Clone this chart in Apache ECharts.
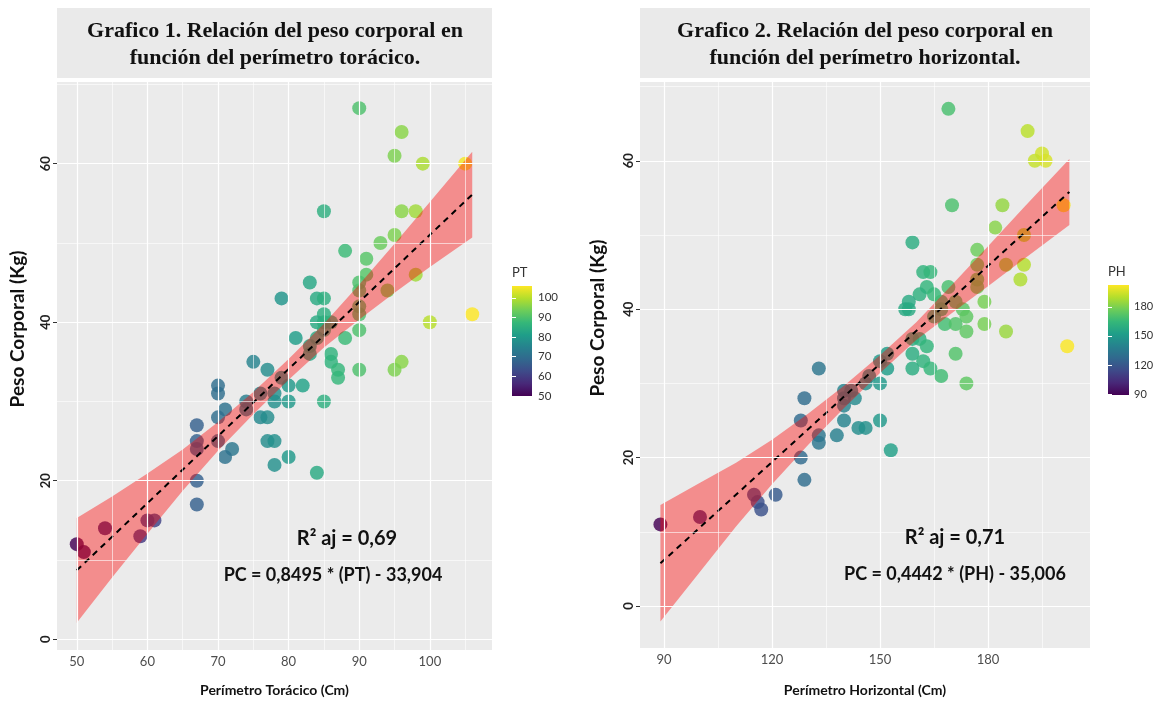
<!DOCTYPE html>
<html><head><meta charset="utf-8">
<script src="https://cdn.jsdelivr.net/npm/echarts@6/dist/echarts.min.js"></script>
<style>html,body{margin:0;padding:0;background:#fff}#c{width:1154px;height:702px}</style>
</head><body><div id="c"></div>
<script>
// ---------- data: chart 1 (PT vs PC) ----------
const ptX = [90,96,95,99,105,85,96,98,95,93,88,91,91,98,90,83,90,94,79,84,85,90,90,85,84,85,86,100,106,90,85,81,88,84,83,83,86,75,86,96,77,87,90,95,79,87,80,82,70,70,76,78,78,80,85,74,74,71,70,76,77,67,67,67,70,77,78,72,71,80,78,84,67,67,60,61,54,59,50,51];
const ptY = [67,64,61,60,60,54,54,54,51,50,49,48,46,46,45,45,44,44,43,43,43,42,41,41,40,40,40,40,41,39,39,38,38,38,37,36,36,35,35,35,34,34,34,34,33,33,32,32,32,31,31,31,30,30,30,30,29,29,28,28,28,27,25,24,25,25,25,24,23,23,22,21,20,17,15,15,14,13,12,11];
const fit1X = [50, 106];
const fit1Y = [8.7, 56.1];
const band1X  = [50, 55, 60, 65, 70, 75, 80, 85, 90, 95, 100, 106];
const band1Lo = [2.1, 7.8, 13.3, 18.75, 23.8, 28.4, 32.75, 36.8, 40.35, 43.7, 46.95, 50.7];
const band1Hi = [15.3, 18.0, 20.9, 23.95, 27.4, 31.2, 35.35, 39.8, 44.75, 49.9, 55.15, 61.5];
const ptRange = [50, 106];

// ---------- data: chart 2 (PH vs PC) ----------
const phX = [169,191,195,193,196,170,184,201,182,190,159,177,177,185,190,162,164,177,189,163,169,177,161,165,158,167,171,179,157,158,167,173,174,165,168,171,179,174,185,159,161,163,202,159,171,152,150,162,152,164,133,159,167,147,174,150,146,140,142,129,143,140,140,128,140,150,144,146,138,133,133,153,128,129,115,121,116,117,100,89];
const phY = [67,64,61,60,60,54,54,54,51,50,49,48,46,46,46,45,45,44,44,43,43,43,42,42,41,41,41,41,40,40,40,40,39,39,38,38,38,37,37,36,36,35,35,34,34,34,33,33,32,32,32,32,31,31,30,30,30,29,29,28,28,28,27,25,25,25,24,24,23,23,22,21,20,17,15,15,14,13,12,11];
const fit2X = [89, 202.6];
const fit2Y = [5.75, 55.8];
const band2X  = [89, 100, 110, 120, 130, 140, 150, 160, 170, 180, 190, 202.6];
const band2Lo = [-2.1, 4.6, 10.7, 16.4, 21.7, 26.7, 31.4, 35.8, 39.5, 43.1, 46.75, 51.35];
const band2Hi = [13.6, 16.6, 19.3, 22.4, 25.9, 29.7, 33.8, 38.2, 43.3, 48.5, 53.75, 60.25];
const phRange = [89, 202.6];

// ---------- ticks ----------
const x1Major = [50, 60, 70, 80, 90, 100];
const x1Minor = [55, 65, 75, 85, 95, 105];
const yMajor  = [0, 20, 40, 60];
const yMinor  = [10, 30, 50, 70];
const x2Major = [90, 120, 150, 180];
const x2Minor = [105, 135, 165, 195];
const leg1Ticks = [50, 60, 70, 80, 90, 100];
const leg2Ticks = [90, 120, 150, 180];

const viridis = ['#440154','#482878','#3E4A89','#31688E','#26828E','#1F9E89','#35B779','#6DCD59','#B4DE2C','#FDE725'];
const FONT = 'Lato, "Open Sans", sans-serif';

const chart = echarts.init(document.getElementById('c'), null, {renderer: 'canvas'});

function gridLines(xi, yi, xs, xsMin, ys, ysMin, xr, yr) {
  const d = [];
  xsMin.forEach(v => d.push({xAxis: v, lineStyle: {color: '#fff', width: 0.6, type: 'solid'}}));
  ysMin.forEach(v => d.push({yAxis: v, lineStyle: {color: '#fff', width: 0.6, type: 'solid'}}));
  xs.forEach(v => d.push({xAxis: v, lineStyle: {color: '#fff', width: 1.2, type: 'solid'}}));
  ys.forEach(v => d.push({yAxis: v, lineStyle: {color: '#fff', width: 1.2, type: 'solid'}}));
  return {
    type: 'line', xAxisIndex: xi, yAxisIndex: yi, z: 0, silent: true,
    data: [[xr, yr]], showSymbol: false, symbol: 'none', lineStyle: {opacity: 0},
    markLine: {silent: true, symbol: 'none', label: {show: false}, animation: false, data: d}
  };
}

function bandSeries(xi, yi, bx, lo, hi) {
  return {
    type: 'custom', xAxisIndex: xi, yAxisIndex: yi, z: 3, silent: true,
    data: [[bx[0], lo[0]]],
    renderItem: function (params, api) {
      const pts = [];
      for (let i = 0; i < bx.length; i++) pts.push(api.coord([bx[i], hi[i]]));
      for (let i = bx.length - 1; i >= 0; i--) pts.push(api.coord([bx[i], lo[i]]));
      return {type: 'polygon', shape: {points: pts}, style: {fill: 'rgba(255,0,0,0.4)'}};
    }
  };
}

function colorBar(xi, yi, range) {
  return {
    type: 'custom', xAxisIndex: xi, yAxisIndex: yi, z: 2, silent: true,
    encode: {x: 0, y: [1, 2]},
    data: [[0, range[0], range[1]]],
    renderItem: function (params, api) {
      const p1 = api.coord([0, api.value(2)]);
      const p2 = api.coord([1, api.value(1)]);
      const stops = viridis.slice().reverse().map((c, i) => ({offset: i / (viridis.length - 1), color: c}));
      return {type: 'rect', shape: {x: p1[0], y: p1[1], width: p2[0] - p1[0], height: p2[1] - p1[1]},
        style: {fill: new echarts.graphic.LinearGradient(0, 0, 0, 1, stops)}};
    }
  };
}

const axisLblX = {color: '#4D4D4D', fontSize: 13, fontFamily: FONT, margin: 5};
const axisLblY = {color: '#222', fontSize: 13, fontWeight: 'bold', fontFamily: FONT, rotate: 90, margin: 5};
const tickStyle = {show: true, length: 4, lineStyle: {color: '#333', width: 1}};
const nameStyleX = {color: '#111', fontSize: 14, fontWeight: 'bold', fontFamily: FONT};
const yTitleFont = 'bold 19px Lato, sans-serif';

const option = {
  backgroundColor: '#fff',
  animation: false,
  grid: [
    {left: 57, top: 82, width: 435, height: 568, show: true, backgroundColor: '#EBEBEB', borderWidth: 0, outerBoundsMode: 'none', containLabel: false},
    {left: 512, top: 286, width: 20, height: 110, show: false, outerBoundsMode: 'none', containLabel: false},
    {left: 640, top: 82, width: 450, height: 566, show: true, backgroundColor: '#EBEBEB', borderWidth: 0, outerBoundsMode: 'none', containLabel: false},
    {left: 1108, top: 285, width: 21, height: 110, show: false, outerBoundsMode: 'none', containLabel: false}
  ],
  xAxis: [
    {gridIndex: 0, type: 'value', min: 47.2, max: 108.8, axisLine: {show: false}, splitLine: {show: false},
     axisTick: Object.assign({customValues: x1Major}, tickStyle),
     axisLabel: Object.assign({customValues: x1Major}, axisLblX),
     name: 'Perímetro Torácico (Cm)', nameLocation: 'middle', nameGap: 33, nameTextStyle: nameStyleX},
    {gridIndex: 1, type: 'value', min: 0, max: 1, show: false},
    {gridIndex: 2, type: 'value', min: 83.33, max: 208.33, axisLine: {show: false}, splitLine: {show: false},
     axisTick: Object.assign({customValues: x2Major}, tickStyle),
     axisLabel: Object.assign({customValues: x2Major}, axisLblX),
     name: 'Perímetro Horizontal (Cm)', nameLocation: 'middle', nameGap: 35, nameTextStyle: nameStyleX},
    {gridIndex: 3, type: 'value', min: 0, max: 1, show: false}
  ],
  yAxis: [
    {gridIndex: 0, type: 'value', min: -1.35, max: 70.3, axisLine: {show: false}, splitLine: {show: false},
     axisTick: Object.assign({customValues: yMajor}, tickStyle),
     axisLabel: Object.assign({customValues: yMajor}, axisLblY)},
    {gridIndex: 1, type: 'value', min: ptRange[0], max: ptRange[1], position: 'right', z: 5,
     axisLine: {show: false}, splitLine: {show: false},
     axisTick: {show: true, inside: true, length: 4, customValues: leg1Ticks, lineStyle: {color: '#fff', width: 1}},
     axisLabel: {customValues: leg1Ticks, color: '#333', fontSize: 11.5, fontFamily: FONT, margin: 6},
     name: 'PT', nameLocation: 'end', nameGap: 7, nameTextStyle: {color: '#333', fontSize: 13, fontFamily: FONT, align: 'left'}},
    {gridIndex: 1, type: 'value', min: ptRange[0], max: ptRange[1], position: 'left', z: 5,
     axisLine: {show: false}, splitLine: {show: false}, axisLabel: {show: false},
     axisTick: {show: true, inside: true, length: 4, customValues: leg1Ticks, lineStyle: {color: '#fff', width: 1}}},
    {gridIndex: 2, type: 'value', min: -5.66, max: 70.62, axisLine: {show: false}, splitLine: {show: false},
     axisTick: Object.assign({customValues: yMajor}, tickStyle),
     axisLabel: Object.assign({customValues: yMajor}, axisLblY)},
    {gridIndex: 3, type: 'value', min: phRange[0], max: phRange[1], position: 'right', z: 5,
     axisLine: {show: false}, splitLine: {show: false},
     axisTick: {show: true, inside: true, length: 4, customValues: leg2Ticks, lineStyle: {color: '#fff', width: 1}},
     axisLabel: {customValues: leg2Ticks, color: '#333', fontSize: 11, fontFamily: FONT, margin: 5},
     name: 'PH', nameLocation: 'end', nameGap: 7, nameTextStyle: {color: '#333', fontSize: 13, fontFamily: FONT, align: 'left'}},
    {gridIndex: 3, type: 'value', min: phRange[0], max: phRange[1], position: 'left', z: 5,
     axisLine: {show: false}, splitLine: {show: false}, axisLabel: {show: false},
     axisTick: {show: true, inside: true, length: 4, customValues: leg2Ticks, lineStyle: {color: '#fff', width: 1}}}
  ],
  visualMap: [
    {type: 'continuous', show: false, seriesIndex: 1, dimension: 0, min: ptRange[0], max: ptRange[1], inRange: {color: viridis}},
    {type: 'continuous', show: false, seriesIndex: 6, dimension: 0, min: phRange[0], max: phRange[1], inRange: {color: viridis}}
  ],
  series: [
    gridLines(0, 0, x1Major, x1Minor, yMajor, yMinor, 47.2, -1.35),
    {type: 'scatter', xAxisIndex: 0, yAxisIndex: 0, z: 2, symbolSize: 14,
     itemStyle: {opacity: 0.82}, data: ptX.map((x, i) => [x, ptY[i]])},
    bandSeries(0, 0, band1X, band1Lo, band1Hi),
    {type: 'line', xAxisIndex: 0, yAxisIndex: 0, z: 4, symbol: 'none', silent: true,
     lineStyle: {color: '#000', width: 2, type: [6, 5]}, data: fit1X.map((x, i) => [x, fit1Y[i]])},
    colorBar(1, 1, ptRange),
    gridLines(2, 3, x2Major, x2Minor, yMajor, yMinor, 83.33, -5.66),
    {type: 'scatter', xAxisIndex: 2, yAxisIndex: 3, z: 2, symbolSize: 14,
     itemStyle: {opacity: 0.82}, data: phX.map((x, i) => [x, phY[i]])},
    bandSeries(2, 3, band2X, band2Lo, band2Hi),
    {type: 'line', xAxisIndex: 2, yAxisIndex: 3, z: 4, symbol: 'none', silent: true,
     lineStyle: {color: '#000', width: 2, type: [6, 5]}, data: fit2X.map((x, i) => [x, fit2Y[i]])},
    colorBar(3, 5, phRange)
  ],
  graphic: [
    {type: 'rect', left: 57, top: 8, shape: {width: 435, height: 70}, style: {fill: '#EAEAEA'}, z: 0},
    {type: 'rect', left: 640, top: 8, shape: {width: 450, height: 70}, style: {fill: '#EAEAEA'}, z: 0},
    {type: 'text', x: 275, y: 31, z: 5, style: {text: 'Grafico 1. Relación del peso corporal en', fill: '#111', font: 'bold 22px "Liberation Serif", serif', textAlign: 'center', textVerticalAlign: 'middle'}},
    {type: 'text', x: 275, y: 58, z: 5, style: {text: 'función del perímetro torácico.', fill: '#111', font: 'bold 22px "Liberation Serif", serif', textAlign: 'center', textVerticalAlign: 'middle'}},
    {type: 'text', x: 865, y: 31, z: 5, style: {text: 'Grafico 2. Relación del peso corporal en', fill: '#111', font: 'bold 22px "Liberation Serif", serif', textAlign: 'center', textVerticalAlign: 'middle'}},
    {type: 'text', x: 865, y: 58, z: 5, style: {text: 'función del perímetro horizontal.', fill: '#111', font: 'bold 22px "Liberation Serif", serif', textAlign: 'center', textVerticalAlign: 'middle'}},
    {type: 'text', x: 18, y: 329, rotation: Math.PI / 2, z: 5, style: {text: 'Peso Corporal (Kg)', fill: '#111', font: yTitleFont, textAlign: 'center', textVerticalAlign: 'middle'}},
    {type: 'text', x: 598, y: 318, rotation: Math.PI / 2, z: 5, style: {text: 'Peso Corporal (Kg)', fill: '#111', font: yTitleFont, textAlign: 'center', textVerticalAlign: 'middle'}},
    {type: 'text', x: 347, y: 539, z: 10, style: {text: 'R² aj = 0,69', fill: '#111', font: 'bold 20px Lato, sans-serif', textAlign: 'center', textVerticalAlign: 'middle'}},
    {type: 'text', x: 333, y: 575, z: 10, style: {text: 'PC = 0,8495 * (PT) - 33,904', fill: '#111', font: 'bold 18px Lato, sans-serif', textAlign: 'center', textVerticalAlign: 'middle'}},
    {type: 'text', x: 955, y: 538, z: 10, style: {text: 'R² aj = 0,71', fill: '#111', font: 'bold 20px Lato, sans-serif', textAlign: 'center', textVerticalAlign: 'middle'}},
    {type: 'text', x: 955, y: 574, z: 10, style: {text: 'PC = 0,4442 * (PH) - 35,006', fill: '#111', font: 'bold 18px Lato, sans-serif', textAlign: 'center', textVerticalAlign: 'middle'}}
  ]
};
chart.setOption(option);
</script></body></html>
